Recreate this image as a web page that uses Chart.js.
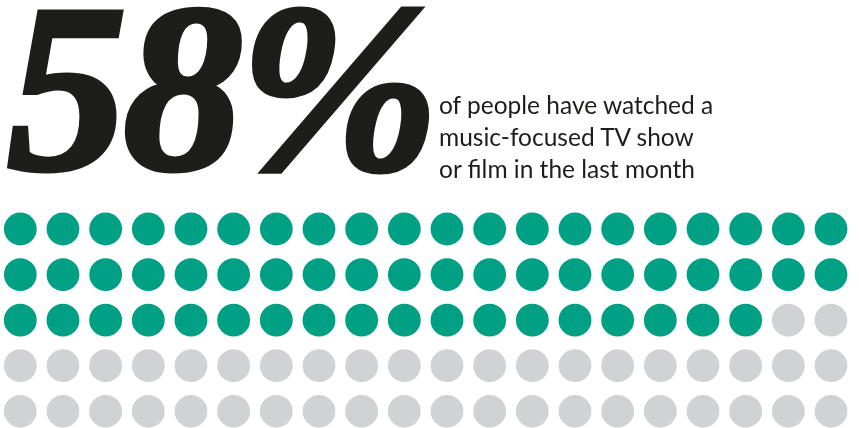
<!DOCTYPE html>
<html>
<head>
<meta charset="utf-8">
<script src="https://cdn.jsdelivr.net/npm/chart.js@4"></script>
<style>
  html, body { margin: 0; padding: 0; background: #fff; }
  #wrap { position: relative; width: 859px; height: 428px; overflow: hidden; }
  #big {
    position: absolute; left: 7px; top: -32px;
    font-family: "Liberation Serif", serif; font-weight: bold; font-style: italic;
    font-size: 240px; line-height: 240px; color: #1d1d1b;
    -webkit-text-stroke: 5px #1d1d1b;
    white-space: nowrap; letter-spacing: -4px;
  }
  #sub {
    position: absolute; left: 439px; top: 89px;
    font-family: Lato, sans-serif; font-size: 24.5px; line-height: 32px; color: #1d1d1b;
  }
  canvas { position: absolute; left: 0; top: 0; }
</style>
</head>
<body>
<div id="wrap">
  <canvas id="dots" width="859" height="428"></canvas>
  <div id="big"></div>
  <div id="sub"></div>
</div>
<script>
var headline = "58%";
var subLines = ["of people have watched a", "music-focused TV show", "or film in the last month"];
var share = 58;       // percent who watched
var columns = 20;
var rows = 5;

document.getElementById('big').textContent = headline;
document.getElementById('sub').innerHTML = subLines.join('<br>');

// one point per person out of 100
var pts = [];
var colors = [];
for (var i = 0; i < columns * rows; i++) {
  pts.push({ x: i % columns, y: Math.floor(i / columns) });
  colors.push(i < share ? '#00a085' : '#d1d2d4');
}

var ctx = document.getElementById('dots').getContext('2d');
var myChart = new Chart(ctx, {
  type: 'scatter',
  data: {
    datasets: [{
      data: pts,
      backgroundColor: colors,
      borderWidth: 0,
      pointRadius: 16.4,
      pointHoverRadius: 16.4,
      clip: false
    }]
  },
  options: {
    responsive: false,
    animation: false,
    events: [],
    layout: { padding: 0, autoPadding: false },
    plugins: { legend: { display: false }, tooltip: { enabled: false } },
    scales: {
      x: { display: false, min: -0.476, max: 19.656 },
      y: { display: false, reverse: true, min: -5.025, max: 4.367 }
    }
  }
});
</script>
</body>
</html>
